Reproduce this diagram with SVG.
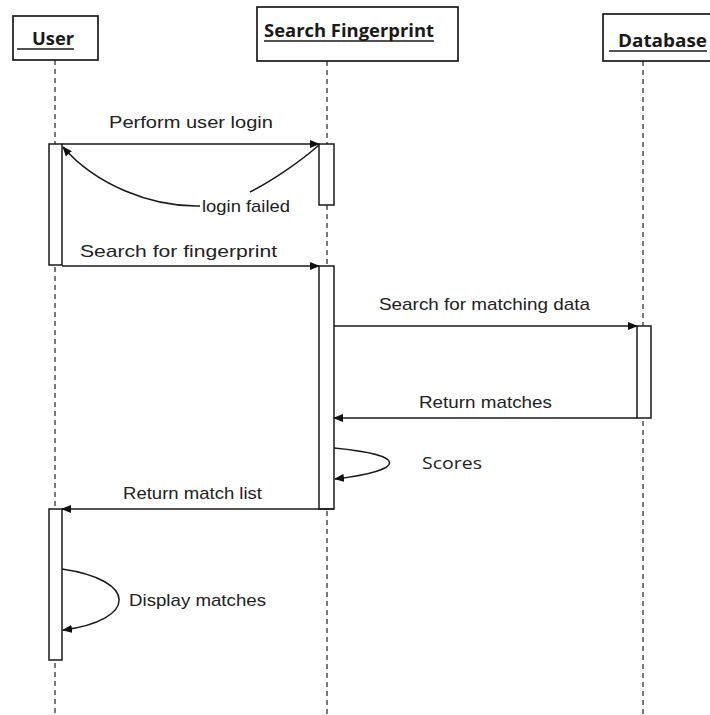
<svg xmlns="http://www.w3.org/2000/svg" width="710" height="715" viewBox="0 0 710 715">
  <style>
    .box { fill: #ffffff; stroke: #1a1a1a; stroke-width: 1.7; }
    .title { font-family: "Open Sans", "Liberation Sans", sans-serif; font-weight: 700; font-size: 18px; fill: #1a1a1a; }
    .uline { stroke: #1a1a1a; stroke-width: 1.6; }
    .life { stroke: #333333; stroke-width: 1.3; stroke-dasharray: 5 4; fill: none; }
    .act { fill: #ffffff; stroke: #1a1a1a; stroke-width: 1.5; }
    .msg { stroke: #1a1a1a; stroke-width: 1.5; fill: none; }
    .lbl { font-family: "Liberation Sans", Arial, sans-serif; font-size: 17px; fill: #222222; }
    .lbl2 { font-family: "Open Sans", "Liberation Sans", sans-serif; font-size: 16px; fill: #222222; }
  </style>
  <defs>
    <marker id="arrow" markerWidth="10" markerHeight="8" refX="9" refY="4" orient="auto" markerUnits="userSpaceOnUse">
      <path d="M0,0 L10,4 L0,8 Z" fill="#111111"/>
    </marker>
  </defs>

  <rect x="0" y="0" width="710" height="715" fill="#ffffff"/>

  <!-- lifelines -->
  <g id="lifelines">
    <line class="life" x1="55" y1="60" x2="55" y2="715"/>
    <line class="life" x1="327" y1="61" x2="327" y2="715"/>
    <line class="life" x1="643" y1="61" x2="643" y2="715"/>
  </g>

  <!-- participants -->
  <g id="user">
    <rect class="box" x="13" y="16" width="85" height="44"/>
    <text class="title" x="32" y="45" textLength="42" lengthAdjust="spacingAndGlyphs">User</text>
    <line class="uline" x1="17" y1="49" x2="74" y2="49"/>
    <rect class="act" x="49" y="144" width="13" height="121"/>
    <rect class="act" x="49" y="509" width="13" height="151"/>
  </g>
  <g id="search-fingerprint">
    <rect class="box" x="257" y="7" width="201" height="54"/>
    <text class="title" x="264" y="37" textLength="170" lengthAdjust="spacingAndGlyphs">Search Fingerprint</text>
    <line class="uline" x1="264" y1="41" x2="434" y2="41"/>
    <rect class="act" x="319" y="144" width="15" height="61"/>
    <rect class="act" x="319" y="266" width="15" height="243"/>
  </g>
  <g id="database">
    <rect class="box" x="603" y="14" width="110" height="47"/>
    <text class="title" x="618" y="47" textLength="89" lengthAdjust="spacingAndGlyphs">Database</text>
    <line class="uline" x1="609" y1="51" x2="707" y2="51"/>
    <rect class="act" x="637" y="326" width="14" height="92"/>
  </g>

  <!-- messages -->
  <g id="connectors">
    <line class="msg" x1="62" y1="144" x2="319" y2="144" marker-end="url(#arrow)"/>
    <path class="msg" d="M319,145 C300,162 270,182 250,192"/>
    <path class="msg" d="M200,206 C150,207 95,184 63,147" marker-end="url(#arrow)"/>
    <line class="msg" x1="62" y1="266" x2="319" y2="266" marker-end="url(#arrow)"/>
    <line class="msg" x1="334" y1="326" x2="637" y2="326" marker-end="url(#arrow)"/>
    <line class="msg" x1="637" y1="418" x2="334" y2="418" marker-end="url(#arrow)"/>
    <path class="msg" d="M334,448 C408,455 408,470 335,479" marker-end="url(#arrow)"/>
    <line class="msg" x1="334" y1="509" x2="62" y2="509" marker-end="url(#arrow)"/>
    <path class="msg" d="M62,569 C138,580 138,620 63,630" marker-end="url(#arrow)"/>
  </g>

  <!-- message labels -->
  <g id="labels">
    <text class="lbl" x="109" y="128" textLength="164" lengthAdjust="spacingAndGlyphs">Perform user login</text>
    <text class="lbl" x="202" y="212" textLength="88" lengthAdjust="spacingAndGlyphs">login failed</text>
    <text class="lbl" x="80" y="257" textLength="197" lengthAdjust="spacingAndGlyphs">Search for fingerprint</text>
    <text class="lbl" x="379" y="310" textLength="211" lengthAdjust="spacingAndGlyphs">Search for matching data</text>
    <text class="lbl" x="419" y="408" textLength="133" lengthAdjust="spacingAndGlyphs">Return matches</text>
    <text class="lbl2" x="422" y="469" textLength="60" lengthAdjust="spacingAndGlyphs">Scores</text>
    <text class="lbl" x="123" y="499" textLength="139" lengthAdjust="spacingAndGlyphs">Return match list</text>
    <text class="lbl" x="129" y="606" textLength="137" lengthAdjust="spacingAndGlyphs">Display matches</text>
  </g>
</svg>
